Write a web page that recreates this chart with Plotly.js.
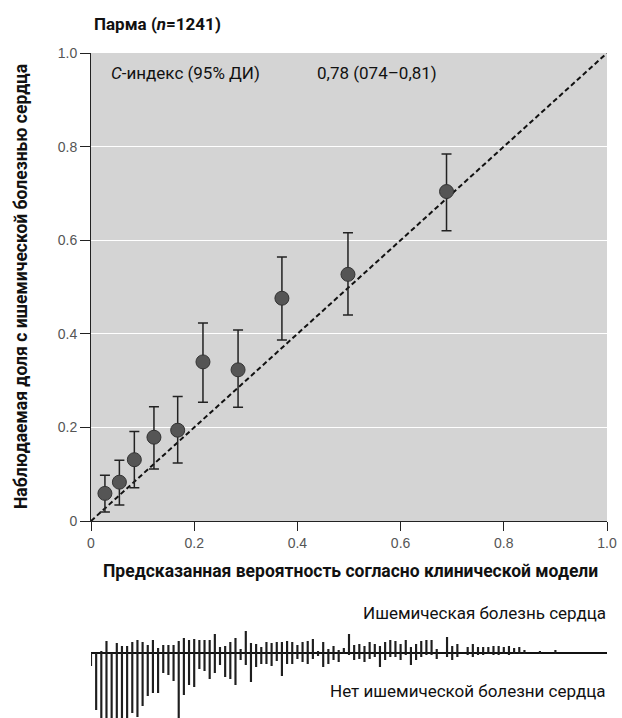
<!DOCTYPE html>
<html>
<head>
<meta charset="utf-8">
<script src="https://cdn.plot.ly/plotly-3.0.1.min.js"></script>
<style>
  html, body { margin: 0; padding: 0; background: #fff; }
  #chart { width: 622px; height: 718px; }
</style>
</head>
<body>
<div id="chart"></div>
<script>
// Calibration by risk group: mean predicted probability vs observed proportion
const predicted = [0.027, 0.055, 0.084, 0.122, 0.168, 0.217, 0.285, 0.370, 0.498, 0.689];
const observed  = [0.059, 0.083, 0.131, 0.179, 0.194, 0.340, 0.323, 0.476, 0.527, 0.704];
const ciLow     = [0.019, 0.034, 0.071, 0.111, 0.124, 0.254, 0.243, 0.387, 0.440, 0.620];
const ciHigh    = [0.098, 0.130, 0.191, 0.244, 0.266, 0.423, 0.408, 0.564, 0.616, 0.784];

// Ideal calibration line
const idealX = [0, 1];
const idealY = [0, 1];

// Distribution of predicted probabilities, 0.01-wide bins starting at 0
const binWidth = 0.01;
const withDisease = [0,0,2,12,0,10,7,7,11,13, 11,8,13,5,8,8,8,12,15,13,
  14,13,13,13,19,6,7,11,15,4, 22,10,9,6,11,10,11,11,12,11,
  8,11,12,14,2,11,4,7,3,5, 19,8,9,7,11,9,7,11,13,12,
  9,13,6,9,12,13,13,4,0,16, 7,9,0,6,9,6,6,6,7,7,
  6,7,5,6,3,0,0,2,0,0, 3];
const withoutDisease = [13,57,66,66,66,66,66,66,60,64, 53,43,40,40,20,22,28,66,42,32,
  34,16,18,26,20,12,24,26,32,7, 12,29,14,11,11,13,8,23,11,11,
  6,9,11,6,3,14,11,7,9,1, 2,7,6,9,6,4,14,7,4,4,
  7,2,12,7,4,2,2,6,0,4, 7,4,0,2,4,2,2,1,2,2,
  1,2,1,1,1,0,0,1,0,0, 1];

const tickVals = [0, 0.2, 0.4, 0.6, 0.8, 1.0];
const tickText = ['0', '0.2', '0.4', '0.6', '0.8', '1.0'];

const binX = withDisease.map((_, i) => i * binWidth);

const W = 622, H = 718, ML = 91, MR = 15;
const PW = W - ML - MR;
const px = x => (x - ML) / PW;
const py = y => 1 - y / H;

const textFont = 'Roboto, "Noto Sans", sans-serif';
const tickFont = { family: '"Liberation Sans", Arial, sans-serif', size: 14, color: '#555' };

const traces = [
  {
    type: 'scatter', mode: 'lines', x: idealX, y: idealY,
    line: { color: '#111', width: 2, dash: '5px,3px' },
    xaxis: 'x', yaxis: 'y', hoverinfo: 'skip'
  },
  {
    type: 'scatter', mode: 'markers', x: predicted, y: observed,
    marker: { size: 14, color: '#555', line: { color: '#333', width: 1 } },
    error_y: {
      type: 'data', symmetric: false,
      array: observed.map((v, i) => ciHigh[i] - v),
      arrayminus: observed.map((v, i) => v - ciLow[i]),
      color: '#222', thickness: 1.5, width: 5
    },
    xaxis: 'x', yaxis: 'y'
  },
  {
    type: 'bar', x: binX, y: withDisease, width: 0.0042,
    marker: { color: '#1e1e1e', line: { width: 0 } },
    xaxis: 'x2', yaxis: 'y2', hoverinfo: 'skip'
  },
  {
    type: 'bar', x: binX, y: withoutDisease.map(v => -v), width: 0.0042,
    marker: { color: '#1e1e1e', line: { width: 0 } },
    xaxis: 'x2', yaxis: 'y2', hoverinfo: 'skip'
  }
];

const layout = {
  width: W, height: H,
  margin: { l: ML, r: MR, t: 0, b: 0, pad: 0 },
  paper_bgcolor: '#fff', plot_bgcolor: 'rgba(0,0,0,0)',
  showlegend: false, barmode: 'overlay',
  font: { family: textFont, color: '#111' },
  xaxis: {
    domain: [0, 1], range: [0, 1], anchor: 'y',
    tickvals: tickVals, ticktext: tickText, tickfont: tickFont,
    ticks: 'outside', ticklen: 9, tickcolor: '#222', tickwidth: 1,
    showline: true, linecolor: '#222', linewidth: 1,
    showgrid: false, zeroline: false
  },
  yaxis: {
    domain: [py(521), py(53)], range: [0, 1], anchor: 'x',
    tickvals: tickVals, ticktext: tickText, tickfont: tickFont,
    ticks: 'outside', ticklen: 10, tickcolor: '#222', tickwidth: 1,
    showline: true, linecolor: '#222', linewidth: 1,
    showgrid: true, gridcolor: '#fff', gridwidth: 1.2, zeroline: false
  },
  xaxis2: {
    domain: [0, 1], range: [0, 1], anchor: 'y2',
    visible: false
  },
  yaxis2: {
    domain: [0, py(625)], range: [-65, 28], anchor: 'x2',
    showticklabels: false, ticks: '', showgrid: false, showline: false,
    zeroline: true, zerolinecolor: '#111', zerolinewidth: 1.5
  },
  shapes: [
    {
      type: 'rect', xref: 'x domain', yref: 'y domain',
      x0: 0, x1: 1, y0: 0, y1: 1, layer: 'below',
      fillcolor: '#d4d4d4', line: { width: 0 }
    }
  ],
  annotations: [
    {
      text: '<b>Парма (<i>n</i>=1241)</b>', xref: 'paper', yref: 'paper',
      x: px(92), y: py(24), xanchor: 'left', yanchor: 'middle', showarrow: false,
      font: { size: 17, color: '#111', family: textFont }
    },
    {
      text: '<i>C</i>-индекс (95% ДИ)', xref: 'paper', yref: 'paper',
      x: px(109), y: py(73), xanchor: 'left', yanchor: 'middle', showarrow: false,
      font: { size: 17, color: '#111', family: textFont }
    },
    {
      text: '0,78 (074–0,81)', xref: 'paper', yref: 'paper',
      x: px(315), y: py(73), xanchor: 'left', yanchor: 'middle', showarrow: false,
      font: { size: 17, color: '#111', family: textFont }
    },
    {
      text: '<b>Предсказанная вероятность согласно клинической модели</b>',
      xref: 'paper', yref: 'paper',
      x: px(350), y: py(571), xanchor: 'center', yanchor: 'middle', showarrow: false,
      font: { size: 17.5, color: '#111', family: textFont }
    },
    {
      text: '<b>Наблюдаемая доля с ишемической болезнью сердца</b>',
      xref: 'paper', yref: 'paper', textangle: -90,
      x: px(21), y: py(287), xanchor: 'center', yanchor: 'middle', showarrow: false,
      font: { size: 17.5, color: '#111', family: textFont }
    },
    {
      text: 'Ишемическая болезнь сердца', xref: 'paper', yref: 'paper',
      x: px(608), y: py(613), xanchor: 'right', yanchor: 'middle', showarrow: false,
      font: { size: 17, color: '#111', family: textFont }
    },
    {
      text: 'Нет ишемической болезни сердца', xref: 'paper', yref: 'paper',
      x: px(608), y: py(691), xanchor: 'right', yanchor: 'middle', showarrow: false,
      font: { size: 17, color: '#111', family: textFont }
    }
  ]
};

Plotly.newPlot('chart', traces, layout, { displayModeBar: false, staticPlot: true });
</script>
</body>
</html>
